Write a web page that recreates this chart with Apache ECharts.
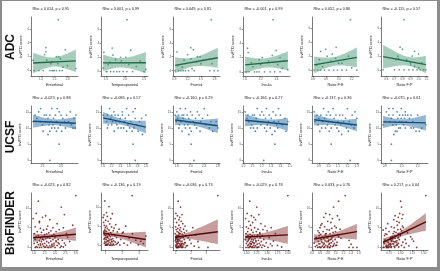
<!DOCTYPE html>
<html>
<head>
<meta charset="utf-8">
<script src="https://cdn.jsdelivr.net/npm/echarts@6/dist/echarts.min.js"></script>
<style>
  html, body { margin: 0; padding: 0; background: #fff; }
  #main { width: 440px; height: 271px; }
</style>
</head>
<body>
<div id="main"></div>
<script>
// bvFTD score vs regional values, three cohorts

var regions = ['Entorhinal', 'Temporoparietal', 'Frontal', 'Insula', 'Ratio F:E', 'Ratio F:P'];

// ---- ADC ----
var adcScore = [0,0,0,0,0,0,0,0,0,0, 0.3,0.5,0.7,1,1,1.3,1.5,1.5,1.7,2,2,2.3,2.7,3,3.3,7.3];
var adcEntorhinal = [1.04,1.40,1.45,1.50,1.55,1.62,1.68,1.25,1.15,1.47, 1.99,1.70,1.80,1.42,1.58,1.45,1.02,1.33,1.64,1.55,1.60,1.28,1.31,1.75,1.31,1.59];
var adcTemporoparietal = [1.50,1.62,1.70,1.78,1.85,1.95,2.05,2.20,2.50,1.52, 2.55,1.42,2.30,1.55,2.10,1.60,1.90,2.40,1.75,1.88,2.02,1.68,1.44,2.15,1.66,2.05];
var adcFrontal = [0.92,1.00,1.05,1.10,1.15,1.22,1.35,1.70,1.80,1.88, 1.30,1.08,0.98,1.75,1.50,1.40,1.12,1.55,1.28,1.42,1.48,1.20,0.96,1.33,1.27,1.73];
var adcInsula = [1.00,1.02,1.05,1.15,1.25,1.32,1.38,1.45,1.12,1.18, 1.55,1.48,1.10,1.20,1.42,1.08,1.30,1.50,1.18,1.22,1.45,1.35,1.04,1.40,1.03,1.36];
var adcRatioFE = [0.62,0.68,0.72,0.78,0.85,0.92,0.98,1.05,1.12,1.28, 1.20,0.75,0.66,1.05,1.00,0.88,0.70,1.08,0.95,0.82,1.15,0.90,0.72,0.80,0.96,1.18];
var adcRatioFP = [0.56,0.70,0.76,0.82,0.88,0.93,0.98,1.02,1.06,1.09, 1.00,0.95,0.90,0.90,1.04,0.85,0.85,0.72,0.75,0.92,0.74,1.00,0.95,0.80,0.77,0.82];
var adcTitles = ['Rho = 0.014, p = 0.95', 'Rho = 0.001, p = 0.99', 'Rho = 0.049, p = 0.81',
                 'Rho = -0.001, p = 0.99', 'Rho = 0.052, p = 0.80', 'Rho = -0.115, p = 0.57'];
var adcXTicks = [['1.2','1.5','1.8'], ['1.5','2.0','2.5'], ['0.9','1.2','1.5','1.8'],
                 ['1.0','1.2','1.4','1.6'], ['0.6','0.8','1.0','1.2'], ['0.6','0.7','0.8','0.9','1.0','1.1']];
var adcYTicks = ['0','2','4','6','8'];

// ---- UCSF ----
var ucsfScore = [16,16,16,15,15,15,14,14,14,14,14,14,14,14,13,13,13,13,13,12,12,12,12,12,12,12,11,11,11,11,11,10,10,10,10,10,10,9,9,9,9,8,5,0];
var ucsfEntorhinal = [1.75,1.90,1.45,1.40,1.95,2.25,1.30,1.55,1.70,1.85,2.00,2.15,2.40,1.60,
  1.35,1.65,1.80,2.05,2.35,1.25,1.45,1.58,1.72,1.88,2.10,2.20,
  1.50,1.68,1.78,1.98,2.28,1.92,2.32,1.83,2.12,2.38,1.75,
  1.52,1.70,1.88,2.02,1.65,1.95,1.70];
var ucsfTemporoparietal = [1.15,1.75,1.55,1.45,1.25,1.70,1.10,1.20,1.35,1.45,1.60,2.00,1.00,1.28,
  1.18,1.40,1.52,1.75,1.90,1.08,1.22,1.38,1.50,1.65,1.85,1.30,
  1.12,1.32,1.58,1.78,1.20,1.42,1.62,1.72,1.10,1.35,1.48,
  1.26,1.55,1.82,1.68,1.92,1.70,1.75];
var ucsfFrontal = [1.70,2.40,1.85,1.60,2.00,2.20,1.55,1.75,1.90,2.05,2.25,1.65,2.50,1.80,
  1.62,1.95,2.15,2.35,1.78,1.58,1.72,1.88,2.08,2.30,2.60,2.75,
  1.68,1.92,2.12,2.45,1.82,1.66,1.98,2.18,2.55,2.80,1.85,
  1.75,2.02,2.28,2.65,1.95,2.02,2.10];
var ucsfInsula = [1.15,1.25,1.38,1.02,1.20,1.32,1.05,1.12,1.18,1.22,1.28,1.35,1.10,1.40,
  1.04,1.14,1.24,1.30,1.45,1.06,1.16,1.21,1.27,1.33,1.38,1.48,
  1.09,1.19,1.26,1.36,1.42,1.11,1.23,1.29,1.37,1.15,1.08,
  1.13,1.25,1.34,1.46,1.31,1.34,1.22];
var ucsfRatioFE = [0.95,1.05,1.20,0.85,1.00,1.28,0.88,0.98,1.08,1.15,0.92,1.02,1.25,1.12,
  0.90,1.06,1.18,0.96,1.30,0.86,0.94,1.04,1.10,1.22,1.00,1.16,
  0.89,0.99,1.13,1.24,1.07,0.93,1.03,1.19,1.27,1.09,0.97,
  0.91,1.11,1.21,1.01,1.14,1.03,1.23];
var ucsfRatioFP = [0.85,0.90,1.00,0.95,0.82,1.05,1.08,0.90,0.98,1.02,1.12,0.85,1.20,1.05,
  0.88,0.96,1.04,1.10,1.00,0.80,0.92,0.98,1.06,1.14,0.86,1.01,
  0.78,0.94,1.03,1.30,0.90,1.15,0.97,1.05,1.25,1.12,0.99,
  1.18,0.93,1.22,0.95,0.91,0.88,0.88];
var ucsfTitles = ['Rho = -0.023, p = 0.88', 'Rho = -0.086, p = 0.57', 'Rho = -0.160, p = 0.29',
                  'Rho = -0.166, p = 0.27', 'Rho = -0.137, p = 0.36', 'Rho = -0.075, p = 0.61'];
var ucsfXTicks = [['1.5','2.0'], ['1.0','1.2','1.4','1.6','1.8','2.0'], ['1.6','2.0','2.4','2.8'],
                  ['1.0','1.1','1.2','1.3','1.4','1.5'], ['0.9','1.0','1.1','1.2','1.3'], ['0.8','1.0','1.2']];
var ucsfYTicks = ['0','5','10','15'];

// ---- BioFINDER ----
var bioScore = [13.1,11.7,10.2,8.6,8.3,8.0,7.6,7.3,7.0,6.6,
  6.3,6.0,5.6,5.4,5.2,5.0,5.0,4.8,4.6,4.5,
  4.4,4.2,4.0,4.0,3.8,3.7,3.5,3.5,3.3,3.2,
  3.0,3.0,3.0,2.8,2.7,2.6,2.5,2.5,2.4,2.3,
  2.2,2.0,2.0,2.0,1.9,1.8,1.7,1.6,1.5,1.5,
  1.5,1.4,1.3,1.2,1.1,1.0,1.0,1.0,0.9,0.8,
  0.8,0.7,0.6,0.5,0.5,0.5,0.4,0.3,0.3,0.2,
  0.2,0.1,0.1,0,0,0,0,0,0,0,
  0,0,0,0.6,1.2,2.1,3.4,0.9,1.7,0.4];
var bioEntorhinal = [3.00,1.20,2.30,1.10,2.45,1.55,1.40,0.95,1.75,1.25,
  1.25,2.10,2.85,1.65,1.05,1.90,2.40,1.30,1.60,2.20,
  1.45,1.80,1.15,2.05,1.35,1.70,2.55,1.00,1.95,1.50,
  1.20,2.25,1.85,1.40,1.10,2.60,1.65,2.00,1.30,1.75,
  1.55,2.15,1.05,1.90,1.45,2.35,1.25,1.80,1.60,2.70,
  1.35,2.05,1.15,1.70,2.45,1.50,1.95,1.00,2.20,1.40,
  1.85,1.20,2.50,1.60,1.30,2.10,1.75,2.30,1.45,1.10,
  1.90,1.55,2.40,1.25,1.65,2.00,1.35,1.80,2.25,1.50,
  1.15,1.70,1.05,1.95,2.15,1.40,1.60,1.30,2.05,1.85];
var bioTemporoparietal = [2.58,0.95,1.20,1.05,1.40,0.90,1.10,0.85,1.30,1.00,
  1.15,0.88,1.25,1.60,0.92,1.05,2.20,1.35,0.98,1.50,
  1.10,1.80,0.95,1.20,1.45,1.02,1.70,0.90,1.30,2.00,
  1.15,1.05,2.60,0.93,1.38,1.22,1.55,1.00,3.40,1.12,
  1.28,0.97,1.65,1.08,2.40,1.18,1.42,0.90,1.33,1.90,
  1.03,1.25,2.80,1.12,1.48,0.95,1.36,3.10,1.07,1.58,
  1.20,1.75,1.00,2.10,1.30,0.92,3.25,1.15,1.45,1.05,
  1.62,1.10,2.95,1.27,0.98,1.40,2.30,1.05,1.85,1.22,
  1.33,1.02,1.50,2.50,1.17,1.08,2.05,1.38,0.94,1.70];
var bioFrontal = [3.75,1.15,1.30,1.00,1.40,1.10,1.25,0.95,1.20,1.35,
  1.05,1.45,1.20,1.60,0.98,1.30,2.10,1.12,1.50,1.02,
  1.25,1.70,1.08,1.35,1.18,1.55,0.96,1.28,1.42,2.30,
  1.15,1.05,1.65,1.22,1.38,0.99,1.48,1.10,1.80,1.30,
  1.03,1.20,1.55,1.12,1.90,1.26,0.97,1.40,1.08,2.45,
  1.18,1.33,1.01,1.60,1.15,1.45,1.07,2.00,1.24,1.36,
  1.10,1.52,0.98,1.28,1.75,1.05,1.40,2.20,1.16,1.32,
  1.00,1.22,1.46,1.09,1.62,1.35,2.50,1.13,3.10,1.04,
  1.19,1.43,1.06,1.31,1.58,0.99,1.21,1.37,1.11,1.70];
var bioInsula = [2.00,1.08,1.25,1.02,1.30,1.12,1.18,0.98,1.22,1.06,
  1.15,1.35,1.10,1.45,1.00,1.20,1.60,1.05,1.28,1.40,
  1.12,1.50,1.03,1.24,1.16,1.32,0.99,1.70,1.09,1.27,
  1.14,1.04,1.38,1.19,1.26,1.01,1.55,1.10,1.33,1.07,
  1.21,1.13,0.97,1.42,1.17,1.29,1.05,1.65,1.11,1.36,
  1.02,1.23,1.15,1.48,1.08,1.31,1.00,1.19,1.58,1.12,
  1.26,1.06,1.34,1.18,1.75,1.03,1.22,1.10,1.44,1.14,
  1.09,1.30,1.85,1.52,1.16,1.25,1.07,1.37,1.04,1.20,
  1.13,1.27,0.99,1.40,1.17,1.06,1.33,1.11,1.23,1.62];
var bioRatioFE = [1.25,1.08,0.95,0.75,0.85,1.05,0.70,0.92,1.10,0.80,
  0.88,0.65,0.62,0.98,0.72,1.02,0.60,0.90,1.12,0.78,
  0.84,0.55,1.00,0.68,0.94,0.58,0.76,0.86,0.62,1.06,
  0.74,0.96,0.58,0.82,1.08,0.66,0.91,0.50,0.79,1.14,
  0.70,0.87,0.99,0.63,0.83,1.35,0.73,0.93,0.56,0.81,
  0.77,0.64,1.04,0.89,0.45,0.97,0.71,0.85,0.60,1.40,
  0.83,0.69,0.95,0.52,0.75,1.01,0.87,0.66,0.80,0.48,
  0.92,0.58,0.72,0.84,1.55,0.63,1.35,1.45,0.54,0.70,
  0.86,0.61,0.79,1.03,0.67,0.90,0.74,0.57,0.82,0.95];
var bioRatioFP = [1.55,1.00,1.02,0.98,1.05,0.88,0.95,1.03,0.85,0.92,
  0.97,0.72,0.93,1.04,0.80,1.06,0.86,0.68,1.00,0.94,
  0.62,1.02,0.86,0.75,0.90,1.15,0.84,0.95,0.70,0.99,
  0.87,0.65,1.00,0.82,1.22,0.96,0.78,0.79,0.94,0.88,
  0.83,1.10,0.78,0.97,0.66,0.81,0.92,1.28,0.84,0.89,
  0.80,0.87,1.05,0.91,0.64,0.77,0.95,1.12,0.85,0.79,
  0.75,0.93,0.70,1.02,0.78,0.73,1.18,0.68,0.86,0.71,
  0.76,0.96,0.80,0.72,1.08,0.69,0.64,1.35,0.62,0.74,
  0.79,0.70,0.87,0.92,0.73,1.25,0.67,0.83,0.71,0.90];
var bioTitles = ['Rho = -0.023, p = 0.82', 'Rho = -0.136, p = 0.19', 'Rho = -0.036, p = 0.73',
                 'Rho = -0.029, p = 0.78', 'Rho = 0.033, p = 0.76', 'Rho = 0.217, p = 0.04'];
var bioXTicks = [['1.0','1.5','2.0','2.5','3.0'], ['1','2','3'], ['1','2','3'],
                 ['1.00','1.25','1.50','1.75','2.00'], ['0.4','0.6','0.8','1.0','1.2','1.4','1.6'], ['0.75','1.00','1.25','1.50']];
var bioYTicks = ['0','5','10'];

var cohorts = [
  { name: 'ADC', score: adcScore, xs: [adcEntorhinal, adcTemporoparietal, adcFrontal, adcInsula, adcRatioFE, adcRatioFP],
    titles: adcTitles, xTicks: adcXTicks, yTicks: adcYTicks,
    point: '#3d8c69', line: '#1f6a49', band: 'rgba(58,145,104,0.45)' },
  { name: 'UCSF', score: ucsfScore, xs: [ucsfEntorhinal, ucsfTemporoparietal, ucsfFrontal, ucsfInsula, ucsfRatioFE, ucsfRatioFP],
    titles: ucsfTitles, xTicks: ucsfXTicks, yTicks: ucsfYTicks,
    point: '#2e6c9c', line: '#134d77', band: 'rgba(40,112,168,0.5)' },
  { name: 'BioFINDER', score: bioScore, xs: [bioEntorhinal, bioTemporoparietal, bioFrontal, bioInsula, bioRatioFE, bioRatioFP],
    titles: bioTitles, xTicks: bioXTicks, yTicks: bioYTicks,
    point: '#6a1010', line: '#570707', band: 'rgba(128,40,40,0.45)' }
];

// layout (px)
var colX = [31, 101, 173, 243, 312, 381];
var plotW = 47;
var rowTop = [17, 106, 193];
var plotH = [59, 57, 57];
var titleY = [7, 96, 183];
var rowLabelY = [47, 137, 223];
var FONT = '"Liberation Sans", Arial, sans-serif';

// linear fit with 95% confidence band (like geom_smooth(method = "lm"))
function lmBand(xs, ys) {
  var n = xs.length, mx = 0, my = 0;
  for (var i = 0; i < n; i++) { mx += xs[i]; my += ys[i]; }
  mx /= n; my /= n;
  var sxx = 0, sxy = 0;
  for (var i = 0; i < n; i++) { sxx += (xs[i] - mx) * (xs[i] - mx); sxy += (xs[i] - mx) * (ys[i] - my); }
  var b = sxy / sxx, a = my - b * mx;
  var sse = 0;
  for (var i = 0; i < n; i++) { var e = ys[i] - (a + b * xs[i]); sse += e * e; }
  var s = Math.sqrt(sse / (n - 2));
  var t = 2.0;
  var x0 = Math.min.apply(null, xs), x1 = Math.max.apply(null, xs);
  var out = [];
  for (var k = 0; k <= 40; k++) {
    var x = x0 + (x1 - x0) * k / 40;
    var f = a + b * x;
    var se = s * Math.sqrt(1 / n + (x - mx) * (x - mx) / sxx);
    out.push([x, f - t * se, f + t * se, f]);
  }
  return out;
}

function bandRenderer(band, color) {
  return function (params, api) {
    if (params.dataIndex !== 0) return null;
    var pts = [];
    for (var i = 0; i < band.length; i++) pts.push(api.coord([band[i][0], band[i][2]]));
    for (var j = band.length - 1; j >= 0; j--) pts.push(api.coord([band[j][0], band[j][1]]));
    return { type: 'polygon', shape: { points: pts }, style: { fill: color } };
  };
}

var grids = [], xAxes = [], yAxes = [], series = [], graphics = [];

graphics.push({ type: 'rect', shape: { x: 2, y: 1, width: 435, height: 266 }, style: { fill: '#fff' }, z: -10 });

cohorts.forEach(function (co, r) {
  graphics.push({
    type: 'text', x: 11, y: rowLabelY[r], rotation: Math.PI / 2,
    style: { text: co.name, font: 'bold 12px ' + FONT, fill: '#111', align: 'center', verticalAlign: 'middle' }
  });
  for (var c = 0; c < 6; c++) {
    var k = r * 6 + c;
    var xs = co.xs[c], ys = co.score;
    var band = lmBand(xs, ys);
    var pts = xs.map(function (x, i) { return [x, ys[i]]; });

    var xmin = Math.min.apply(null, xs), xmax = Math.max.apply(null, xs);
    var ylo = Math.min.apply(null, ys), yhi = Math.max.apply(null, ys);
    band.forEach(function (p) { ylo = Math.min(ylo, p[1]); yhi = Math.max(yhi, p[2]); });
    var xp = (xmax - xmin) * 0.05, yp = (yhi - ylo) * 0.05;

    grids.push({ left: colX[c], top: rowTop[r], width: plotW, height: plotH[r] });

    var xt = co.xTicks[c].map(Number);
    var xtLabels = co.xTicks[c];
    xAxes.push({
      type: 'value', gridIndex: k, min: xmin - xp, max: xmax + xp,
      name: regions[c], nameLocation: 'middle', nameGap: 7,
      nameTextStyle: { fontSize: 3.8, color: '#222', fontFamily: FONT },
      axisLine: { onZero: false, lineStyle: { color: '#222', width: 0.6 } },
      axisTick: { customValues: xt, length: 1.4, lineStyle: { color: '#222', width: 0.5 } },
      axisLabel: {
        customValues: xt, fontSize: 3, margin: 1.8, color: '#555', fontFamily: FONT,
        formatter: (function (vals, labs) {
          return function (v) { for (var i = 0; i < vals.length; i++) if (Math.abs(vals[i] - v) < 1e-6) return labs[i]; return ''; };
        })(xt, xtLabels)
      },
      splitLine: { show: false }
    });

    var yt = co.yTicks.map(Number);
    yAxes.push({
      type: 'value', gridIndex: k, min: ylo - yp, max: yhi + yp,
      name: 'bvFTD score', nameLocation: 'middle', nameGap: 8, nameRotate: 90,
      nameTextStyle: { fontSize: 3.9, color: '#222', fontFamily: FONT },
      axisLine: { show: true, onZero: false, lineStyle: { color: '#222', width: 0.6 } },
      axisTick: { show: true, customValues: yt, length: 1.4, lineStyle: { color: '#222', width: 0.5 } },
      axisLabel: { customValues: yt, fontSize: 3, margin: 1.8, color: '#555', fontFamily: FONT },
      splitLine: { show: false }
    });

    series.push({
      type: 'custom', xAxisIndex: k, yAxisIndex: k, silent: true, z: 1,
      data: band.map(function (p) { return [p[0], p[1], p[2]]; }),
      encode: { x: 0, y: [1, 2] },
      renderItem: bandRenderer(band, co.band)
    });
    series.push({
      type: 'scatter', xAxisIndex: k, yAxisIndex: k, silent: true, z: 2,
      data: pts, symbolSize: 1.8, itemStyle: { color: co.point }
    });
    series.push({
      type: 'line', xAxisIndex: k, yAxisIndex: k, silent: true, z: 3,
      data: [[band[0][0], band[0][3]], [band[band.length - 1][0], band[band.length - 1][3]]],
      showSymbol: false, lineStyle: { color: co.line, width: 1.4 }
    });

    graphics.push({
      type: 'text', x: colX[c] + 1.5, y: titleY[r],
      style: { text: co.titles[c], font: '3.8px ' + FONT, fill: '#222', align: 'left', verticalAlign: 'top' }
    });
  }
});

var chart = echarts.init(document.getElementById('main'));
chart.setOption({
  backgroundColor: '#8c8c8c',
  animation: false,
  grid: grids,
  xAxis: xAxes,
  yAxis: yAxes,
  series: series,
  graphic: graphics
});
</script>
</body>
</html>
